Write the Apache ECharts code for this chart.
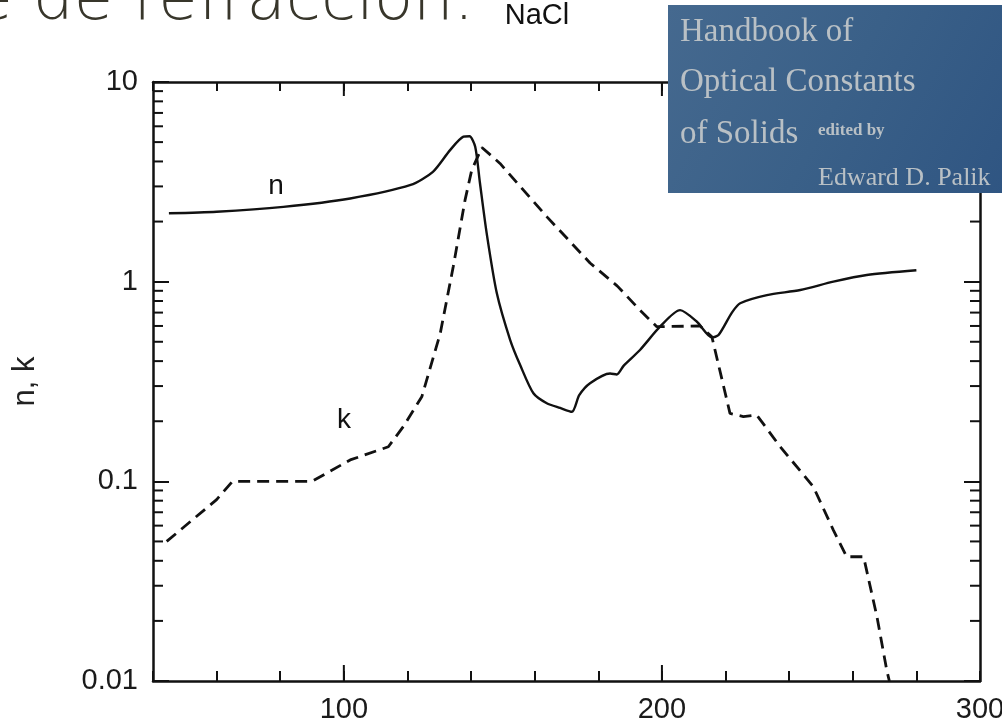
<!DOCTYPE html>
<html><head><meta charset="utf-8">
<script src="https://cdn.jsdelivr.net/npm/echarts@6/dist/echarts.min.js"></script>
<style>html,body{margin:0;padding:0;background:#fff;overflow:hidden}#c{width:1002px;height:725px;}</style>
</head><body><div id="c"></div>
<script>
// ---- data (x: wavelength-like axis, y: n and k, log scale) ----
const nData = [
  [45,2.2],[60,2.24],[81,2.37],[102,2.61],[121,3.05],[128,3.55],[133.4,4.56],[137.6,5.32],
  [139.5,5.35],[141.3,4.74],[142.8,3.11],[144.9,1.75],[148.1,0.874],[152.3,0.51],[155.5,0.38],
  [159.6,0.276],[163.8,0.246],[168,0.233],[171.7,0.223],[174,0.27],[177.4,0.31],[183.7,0.347],
  [185.8,0.343],[188,0.38],[193.1,0.455],[199.4,0.595],[205.7,0.72],[211,0.63],[215.7,0.526],
  [217.8,0.54],[222,0.7],[224.6,0.78],[233,0.857],[243.5,0.908],[253.9,1.0],[264.4,1.08],[280,1.14]
];
const kData = [
  [44.3,0.05],[60,0.081],[65,0.1],[90,0.1],[102,0.128],[114,0.149],[118.7,0.188],[124.5,0.265],
  [130.3,0.55],[134.4,1.19],[138.1,2.56],[140.2,3.62],[143.4,4.7],[149.1,3.91],[164,2.1],
  [177.4,1.24],[186,0.95],[193.1,0.72],[198.4,0.595],[212,0.6],[215.7,0.53],[221.4,0.219],
  [225.6,0.211],[229.8,0.215],[237.2,0.149],[247.6,0.094],[253.9,0.057],[258.1,0.0419],
  [263.4,0.0419],[267.6,0.021],[270.7,0.0113],[271.5,0.01]
];
const xLabelValues = [100, 200, 300];
const xMajorTicks = [100, 200];
const yLabelValues = ['0.01', '0.1', '1', '10'];
const yMinorTicks = [0.02,0.03,0.04,0.05,0.06,0.07,0.08,0.09,
                     0.2,0.3,0.4,0.5,0.6,0.7,0.8,0.9,
                     2,3,4,5,6,7,8,9];
const X_MIN = 40, X_MAX = 300, X_STEP = 20, Y_MIN = 0.01, Y_MAX = 10;

const INK = '#111';
const chart = echarts.init(document.getElementById('c'), null, {renderer: 'canvas'});

function yFmt(v) {
  const e = Math.round(Math.log10(v));
  const s = e >= 0 ? String(Math.pow(10, e)) : Math.pow(10, e).toFixed(-e);
  return yLabelValues.indexOf(s) >= 0 ? s : '';
}

const axisCommon = {
  axisLine: {show: true, lineStyle: {color: INK, width: 2.5}},
  splitLine: {show: false},
};

const coverText = '#b9c0c5';

chart.setOption({
  backgroundColor: '#fff',
  animation: false,
  grid: {left: 153, right: 22, top: 82, bottom: 44, containLabel: false, outerBoundsMode: 'none'},
  xAxis: [
    Object.assign({
      type: 'value', min: X_MIN, max: X_MAX, interval: X_STEP, position: 'bottom',
      axisTick: {show: true, inside: true, length: 10, lineStyle: {color: INK, width: 2}},
      axisLabel: {
        show: true, margin: 14, color: '#1a1a1a', fontSize: 29, fontFamily: 'Liberation Sans',
        showMinLabel: true, showMaxLabel: true, hideOverlap: false,
        formatter: v => (xLabelValues.indexOf(Math.round(v)) >= 0 ? String(Math.round(v)) : '')
      }
    }, axisCommon),
    Object.assign({
      type: 'value', min: X_MIN, max: X_MAX, interval: X_STEP, position: 'top',
      axisTick: {show: true, inside: true, length: 9, lineStyle: {color: INK, width: 2}},
      axisLabel: {show: false}
    }, axisCommon)
  ],
  yAxis: [
    Object.assign({
      type: 'log', logBase: 10, min: Y_MIN, max: Y_MAX, position: 'left',
      axisTick: {show: true, inside: true, length: 16, lineStyle: {color: INK, width: 2}},
      axisLabel: {show: true, margin: 15, color: '#1a1a1a', fontSize: 29, fontFamily: 'Liberation Sans',
                  showMinLabel: true, showMaxLabel: true, formatter: yFmt},
      name: 'n, k', nameLocation: 'middle', nameGap: 112, nameRotate: 90,
      nameTextStyle: {fontSize: 31, color: '#222', fontFamily: 'Liberation Sans'}
    }, axisCommon),
    Object.assign({
      type: 'log', logBase: 10, min: Y_MIN, max: Y_MAX, position: 'right',
      axisTick: {show: true, inside: true, length: 16, lineStyle: {color: INK, width: 2}},
      axisLabel: {show: false}
    }, axisCommon)
  ],
  series: [
    {
      name: 'n', type: 'line', xAxisIndex: 0, yAxisIndex: 0, data: nData,
      showSymbol: false, symbol: 'none', smooth: 0.25, clip: true,
      lineStyle: {color: INK, width: 2.4, type: 'solid'}, z: 5
    },
    {
      name: 'k', type: 'line', xAxisIndex: 0, yAxisIndex: 0, data: kData,
      showSymbol: false, symbol: 'none', smooth: false, clip: true,
      lineStyle: {color: INK, width: 2.8, type: [12, 7]}, z: 5
    },
    {
      // minor ticks of the log axes (left and right edges)
      type: 'custom', xAxisIndex: 0, yAxisIndex: 0, clip: false, silent: true, z: 4,
      data: yMinorTicks.map(v => [X_MIN, v]),
      renderItem: (params, api) => {
        const v = api.value(1);
        const pL = api.coord([X_MIN, v]);
        const pR = api.coord([X_MAX, v]);
        return {type: 'group', children: [
          {type: 'line', shape: {x1: pL[0], y1: pL[1], x2: pL[0] + 10, y2: pL[1]}, style: {stroke: INK, lineWidth: 2}},
          {type: 'line', shape: {x1: pR[0], y1: pR[1], x2: pR[0] - 10, y2: pR[1]}, style: {stroke: INK, lineWidth: 2}}
        ]};
      }
    },
    {
      // longer major ticks on the x axes
      type: 'custom', xAxisIndex: 0, yAxisIndex: 0, clip: false, silent: true, z: 4,
      data: xMajorTicks.map(v => [v, Y_MIN]),
      renderItem: (params, api) => {
        const v = api.value(0);
        const pB = api.coord([v, Y_MIN]);
        const pT = api.coord([v, Y_MAX]);
        return {type: 'group', children: [
          {type: 'line', shape: {x1: pB[0], y1: pB[1], x2: pB[0], y2: pB[1] - 16}, style: {stroke: INK, lineWidth: 2}},
          {type: 'line', shape: {x1: pT[0], y1: pT[1], x2: pT[0], y2: pT[1] + 14}, style: {stroke: INK, lineWidth: 2}}
        ]};
      }
    }
  ],
  graphic: [
    {type: 'text', x: 474, y: 2, z: 100, zlevel: 1, silent: true,
     style: {text: 'Índice de refracción.', font: '200 64px "DejaVu Sans"', fill: '#38362b',
             align: 'right', verticalAlign: 'middle'}},
    {type: 'text', x: 537, y: 16, z: 100, zlevel: 1, silent: true,
     style: {text: 'NaCl', font: '29px "Liberation Sans"', fill: '#111', align: 'center', verticalAlign: 'middle'}},
    {type: 'text', x: 276, y: 186, z: 100, zlevel: 1, silent: true,
     style: {text: 'n', font: '28px "Liberation Sans"', fill: '#111', align: 'center', verticalAlign: 'middle'}},
    {type: 'text', x: 344, y: 420, z: 100, zlevel: 1, silent: true,
     style: {text: 'k', font: '28px "Liberation Sans"', fill: '#111', align: 'center', verticalAlign: 'middle'}},
    {type: 'rect', x: 668, y: 5, z: 100, zlevel: 1, silent: true,
     shape: {x: 0, y: 0, width: 340, height: 188},
     style: {fill: new echarts.graphic.LinearGradient(0, 0, 1, 1, [
       {offset: 0, color: '#45698f'}, {offset: 0.5, color: '#3a6088'}, {offset: 1, color: '#2f5582'}
     ])}},
    {type: 'text', x: 680, y: 49, z: 101, zlevel: 1, silent: true,
     style: {text: 'Handbook of', font: '33px "Liberation Serif"', fill: coverText, verticalAlign: 'bottom'}},
    {type: 'text', x: 680, y: 99, z: 101, zlevel: 1, silent: true,
     style: {text: 'Optical Constants', font: '33px "Liberation Serif"', fill: coverText, verticalAlign: 'bottom'}},
    {type: 'text', x: 680, y: 151, z: 101, zlevel: 1, silent: true,
     style: {text: 'of Solids', font: '33px "Liberation Serif"', fill: coverText, verticalAlign: 'bottom'}},
    {type: 'text', x: 818, y: 139, z: 101, zlevel: 1, silent: true,
     style: {text: 'edited by', font: 'bold 17px "Liberation Serif"', fill: coverText, verticalAlign: 'bottom'}},
    {type: 'text', x: 818, y: 191, z: 101, zlevel: 1, silent: true,
     style: {text: 'Edward D. Palik', font: '26px "Liberation Serif"', fill: coverText, verticalAlign: 'bottom'}}
  ]
});
</script>
</body></html>
